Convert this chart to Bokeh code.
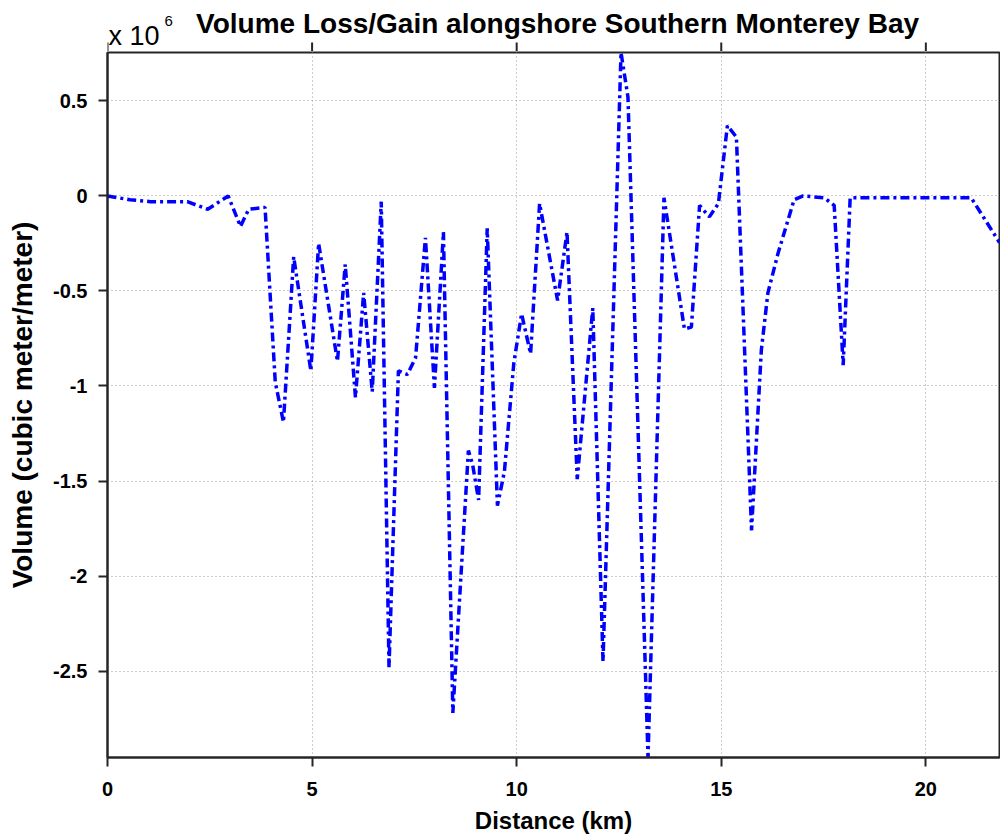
from bokeh.plotting import figure
from bokeh.layouts import column
from bokeh.models import FixedTicker, Range1d
from bokeh.core.properties import value
from bokeh.embed import file_html
from bokeh.resources import INLINE

# Data (volume in units of 1e6 cubic meter/meter)
distance_km = [0, 0.55, 1.05, 1.95, 2.45, 2.95, 3.25, 3.45, 3.85, 4.1, 4.3, 4.55,
               4.97, 5.16, 5.62, 5.81, 6.06, 6.26, 6.47, 6.69, 6.88, 7.11, 7.33,
               7.53, 7.77, 7.99, 8.21, 8.44, 8.82, 8.92, 9.07, 9.28, 9.53, 9.7,
               9.93, 10.12, 10.34, 10.56, 11.0, 11.23, 11.48, 11.86, 12.11, 12.55,
               12.72, 13.21, 13.6, 14.1, 14.27, 14.47, 14.71, 14.93, 15.15, 15.37,
               15.74, 15.98, 16.14, 16.39, 16.78, 17.0, 17.52, 17.76, 17.98, 18.15,
               21.11, 21.8]
volume_1e6 = [0, -0.02, -0.03, -0.03, -0.07, 0.0, -0.16, -0.07, -0.06, -0.98, -1.19,
              -0.32, -0.92, -0.25, -0.87, -0.36, -1.06, -0.51, -1.03, -0.03, -2.48,
              -0.92, -0.94, -0.85, -0.22, -1.01, -0.19, -2.72, -1.34, -1.41, -1.60,
              -0.17, -1.63, -1.45, -0.88, -0.62, -0.83, -0.04, -0.55, -0.19, -1.49,
              -0.59, -2.45, 0.755, 0.52, -2.955, -0.01, -0.70, -0.69, -0.05, -0.11,
              -0.04, 0.37, 0.31, -1.76, -0.81, -0.51, -0.30, -0.02, 0.0, -0.01,
              -0.05, -0.89, -0.01, -0.01, -0.245]

x_ticks = [0, 5, 10, 15, 20]
y_ticks = [-2.5, -2, -1.5, -1, -0.5, 0, 0.5]
y_tick_labels = ["-2.5", "-2", "-1.5", "-1", "-0.5", "0", "0.5"]

title_text = "Volume Loss/Gain alongshore Southern Monterey Bay"
scale_base = "x 10"
scale_exp = "6"
x_label = "Distance (km)"
y_label = "Volume (cubic meter/meter)"

FONT = "Liberation Sans"
DARK = "#262626"

x_range = Range1d(0, 21.8)

# ---- header strip: title, exponent note and the top ticks of the box ----
header = figure(title=None, frame_width=892, frame_height=51,
                x_range=x_range, y_range=Range1d(0, 51),
                x_axis_type=None, y_axis_type=None,
                output_backend="svg", toolbar_location=None,
                min_border_left=107, min_border_right=1, min_border_top=0,
                min_border_bottom=0, background_fill_color="white",
                border_fill_color="white")
header.outline_line_color = None
header.grid.visible = False

header.segment(x0=x_ticks, y0=[0] * len(x_ticks), x1=x_ticks,
               y1=[9] * len(x_ticks), line_color=DARK, line_width=2)
header.text(x=[11.0], y=[28], text=[title_text], text_font=value(FONT),
            text_font_style="bold", text_font_size="28px", text_align="center",
            text_baseline="alphabetic", text_color="black")
header.text(x=[0], y=[16], text=[scale_base], text_font=value(FONT),
            text_font_style="normal", text_font_size="27px", text_align="left",
            text_baseline="alphabetic", text_color="black", x_offset=1)
header.text(x=[0], y=[31], text=[scale_exp], text_font=value(FONT),
            text_font_style="normal", text_font_size="15px", text_align="left",
            text_baseline="alphabetic", text_color="black", x_offset=57)

# ---- main plot ----
p = figure(title=None, frame_width=892, frame_height=705,
           x_range=x_range, y_range=Range1d(-2.955, 0.755),
           output_backend="svg", toolbar_location=None,
           min_border_left=107, min_border_right=1, min_border_top=1,
           min_border_bottom=81, background_fill_color="white",
           border_fill_color="white")

p.outline_line_color = DARK
p.outline_line_width = 2

p.xaxis.ticker = FixedTicker(ticks=x_ticks)
p.yaxis.ticker = FixedTicker(ticks=y_ticks)
p.yaxis.major_label_overrides = {t: s for t, s in zip(y_ticks, y_tick_labels)}
p.xaxis.major_label_overrides = {t: str(t) for t in x_ticks}

for ax in (p.xaxis[0], p.yaxis[0]):
    ax.axis_line_color = DARK
    ax.axis_line_width = 2
    ax.major_tick_line_color = DARK
    ax.major_tick_line_width = 2
    ax.major_tick_out = 9
    ax.major_tick_in = 0
    ax.minor_tick_line_color = None
    ax.major_label_text_font = FONT
    ax.major_label_text_font_style = "bold"
    ax.major_label_text_font_size = "20px"
    ax.major_label_text_color = "black"
    ax.axis_label_text_font = FONT
    ax.axis_label_text_font_style = "bold"
    ax.axis_label_text_color = "black"

p.xaxis.axis_label = x_label
p.xaxis.axis_label_text_font_size = "24px"
p.xaxis.major_label_standoff = 15
p.xaxis.axis_label_standoff = 8

p.yaxis.axis_label = y_label
p.yaxis.axis_label_text_font_size = "28px"
p.yaxis.major_label_standoff = 11
p.yaxis.axis_label_standoff = 12

p.grid.grid_line_color = "#9a9a9a"
p.grid.grid_line_dash = "1 3"
p.grid.grid_line_width = 1
p.xgrid.ticker = FixedTicker(ticks=x_ticks)
p.ygrid.ticker = FixedTicker(ticks=y_ticks)

p.line(distance_km, volume_1e6, line_color="#0000ff", line_width=3.5,
       line_dash="9 4 3 4")

layout = column(header, p, spacing=0)
open("out.html", "w").write(file_html(layout, INLINE))
